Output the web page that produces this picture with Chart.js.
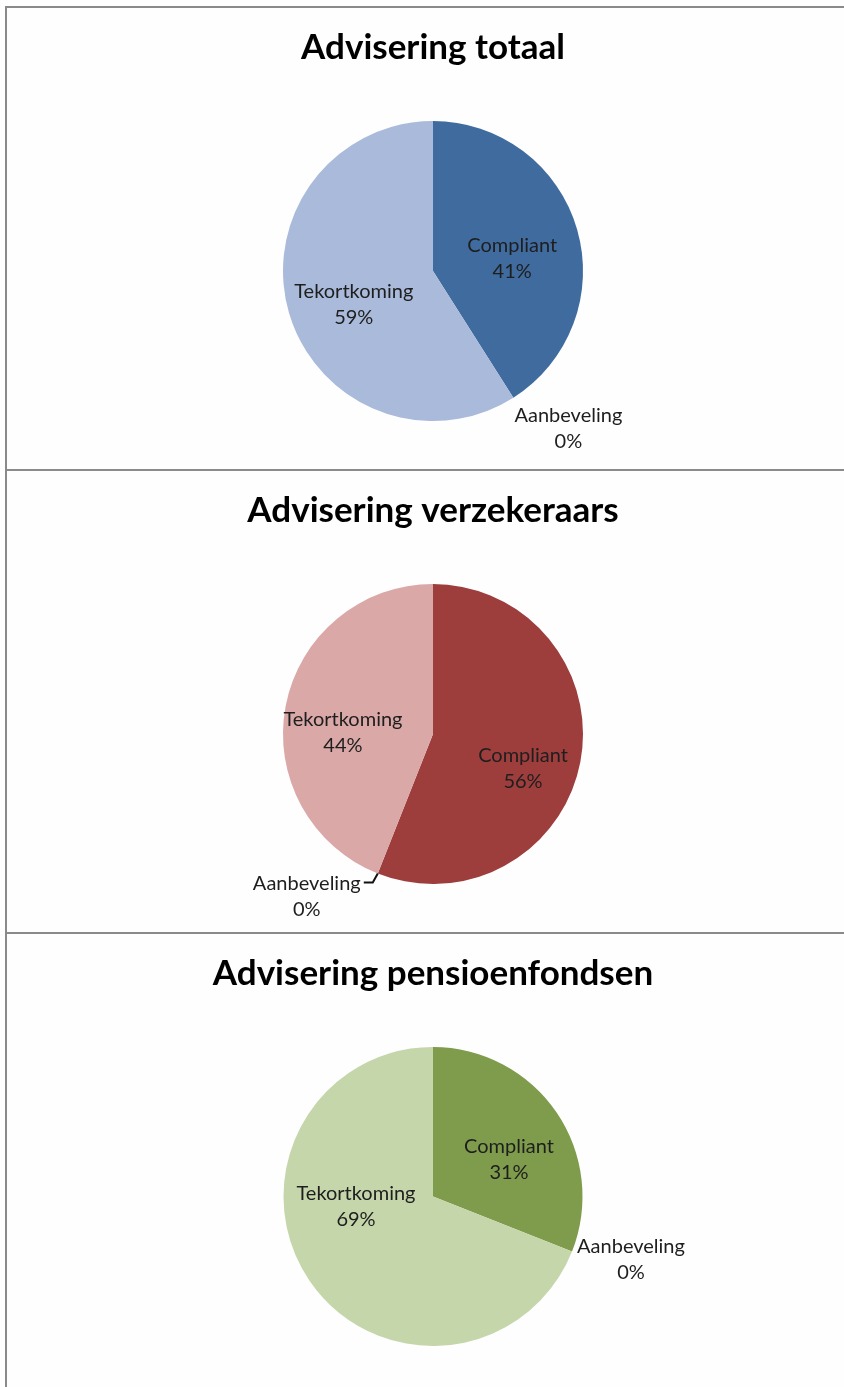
<!DOCTYPE html>
<html>
<head>
<meta charset="utf-8">
<script src="https://cdn.jsdelivr.net/npm/chart.js@4.4.1/dist/chart.umd.min.js"></script>
<style>
  html, body { margin: 0; padding: 0; background: #fefefe; }
  body { width: 844px; height: 1387px; position: relative; overflow: hidden; }
  .panel { position: absolute; left: 5px; width: 839px; border-top: 2px solid #8a8a8a; border-left: 2px solid #8a8a8a; }
  .panel canvas { display: block; }
</style>
</head>
<body>
<div class="panel" style="top:6px;height:461px"><canvas id="c1" width="837" height="461"></canvas></div>
<div class="panel" style="top:469px;height:461px"><canvas id="c2" width="837" height="461"></canvas></div>
<div class="panel" style="top:932px;height:455px"><canvas id="c3" width="837" height="455"></canvas></div>
<script>
// ---- data ----
const categories = ['Compliant', 'Aanbeveling', 'Tekortkoming'];
const titles = ['Advisering totaal', 'Advisering verzekeraars', 'Advisering pensioenfondsen'];
const totaalValues = [41, 0, 59];
const verzekeraarsValues = [56, 0, 44];
const pensioenfondsenValues = [31, 0, 69];

const FONT = "Lato, 'Open Sans', sans-serif";

const sliceLabels = {
  id: 'sliceLabels',
  afterDatasetsDraw(chart, args, opts) {
    const ctx = chart.ctx;
    const meta = chart.getDatasetMeta(0);
    const data = chart.data.datasets[0].data;
    const labels = chart.data.labels;
    ctx.save();
    ctx.font = opts.font;
    ctx.fillStyle = '#1e1e1e';
    ctx.textAlign = 'center';
    ctx.textBaseline = 'middle';
    meta.data.forEach((arc, i) => {
      const p = arc.getProps(['x', 'y', 'startAngle', 'endAngle', 'outerRadius'], true);
      let lx, ly;
      const adj = opts.adjust[i] || [0, 0];
      if (data[i] > 0) {
        const mid = (p.startAngle + p.endAngle) / 2;
        const r = p.outerRadius * 0.55;
        lx = p.x + Math.cos(mid) * r + adj[0];
        ly = p.y + Math.sin(mid) * r + adj[1];
      } else {
        const bx = p.x + Math.cos(p.startAngle) * p.outerRadius;
        const by = p.y + Math.sin(p.startAngle) * p.outerRadius;
        lx = bx + adj[0];
        ly = by + adj[1];
        if (opts.leader) {
          ctx.save();
          ctx.strokeStyle = '#111';
          ctx.lineWidth = 2;
          ctx.beginPath();
          ctx.moveTo(bx, by);
          ctx.lineTo(bx - 5, by + 9);
          ctx.lineTo(bx - 14, by + 9);
          ctx.stroke();
          ctx.restore();
        }
      }
      ctx.fillText(labels[i], lx, ly - 13);
      ctx.fillText(data[i] + '%', lx, ly + 13);
    });
    ctx.restore();
  }
};

function makePie(id, title, values, colors, adjust, leader, padBottom) {
  new Chart(document.getElementById(id), {
    type: 'pie',
    data: {
      labels: categories,
      datasets: [{ data: values, backgroundColor: colors, borderWidth: 0 }]
    },
    options: {
      responsive: false,
      animation: false,
      layout: { padding: { left: 15, right: 0, top: 0, bottom: padBottom } },
      plugins: {
        legend: { display: false },
        tooltip: { enabled: false },
        title: {
          display: true, text: title, color: '#000',
          font: { family: FONT, size: 35, weight: 'bold', lineHeight: 1.2 },
          padding: { top: 19, bottom: 52 }
        },
        sliceLabels: { font: "20px " + FONT, adjust: adjust, leader: leader }
      }
    },
    plugins: [sliceLabels]
  });
}

makePie('c1', titles[0], totaalValues, ['#3F6B9E', '#8EA5C8', '#AABADA'],
  [[0, 11], [55, 31], [0, 11]], false, 48);
makePie('c2', titles[1], verzekeraarsValues, ['#9D3E3D', '#C97A79', '#DBA8A8'],
  [[9, 19], [-71, 23], [-9, 14]], true, 48);
makePie('c3', titles[2], pensioenfondsenValues, ['#7F9C4C', '#A6BE7E', '#C5D6AB'],
  [[8, 9], [59, 8], [-9, -36]], false, 43);
</script>
</body>
</html>
